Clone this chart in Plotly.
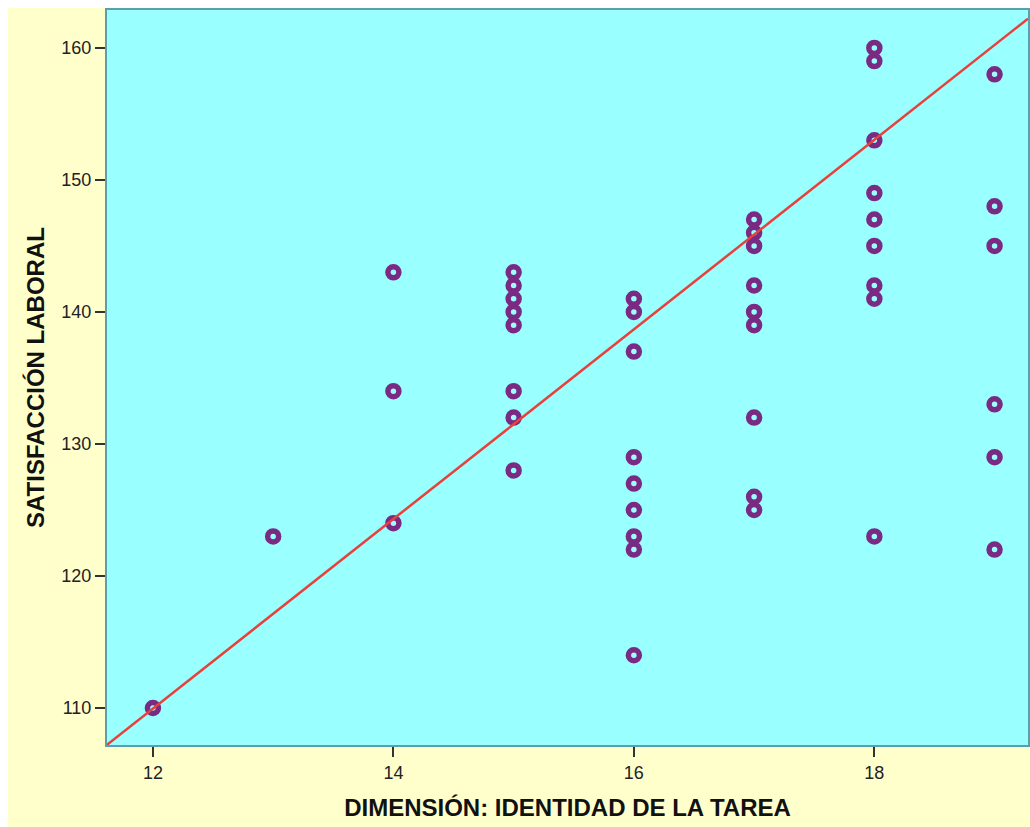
import plotly.graph_objects as go

# Data
x_vals = [12,
          13,
          14, 14, 14,
          15, 15, 15, 15, 15, 15, 15, 15,
          16, 16, 16, 16, 16, 16, 16, 16, 16,
          17, 17, 17, 17, 17, 17, 17, 17, 17,
          18, 18, 18, 18, 18, 18, 18, 18, 18,
          19, 19, 19, 19, 19, 19]
y_vals = [110,
          123,
          143, 134, 124,
          143, 142, 141, 140, 139, 134, 132, 128,
          141, 140, 137, 129, 127, 125, 123, 122, 114,
          147, 146, 145, 142, 140, 139, 132, 126, 125,
          160, 159, 153, 149, 147, 145, 142, 141, 123,
          158, 148, 145, 133, 129, 122]

# Fit line
fit_intercept = 23.8
fit_slope = 7.18

x_range = [11.618, 19.278]
y_range = [107.2, 162.87]
x_ticks = [12, 14, 16, 18]
y_ticks = [110, 120, 130, 140, 150, 160]

fig = go.Figure()
fig.add_trace(go.Scatter(
    x=x_vals, y=y_vals, mode="markers",
    marker=dict(symbol="circle-open", size=11, color="#7B2A83",
                line=dict(width=5.5, color="#7B2A83")),
    showlegend=False, cliponaxis=True))
fig.add_trace(go.Scatter(
    x=x_range, y=[fit_intercept + fit_slope * v for v in x_range],
    mode="lines", line=dict(color="#E8403A", width=2.5),
    showlegend=False))

fig.update_layout(
    width=1022, height=819,
    margin=dict(l=99, r=0, t=1, b=82),
    paper_bgcolor="#FFFFCC",
    plot_bgcolor="#99FFFF",
    font=dict(family="Liberation Sans, Arial, sans-serif", color="#222222"),
    xaxis=dict(range=x_range, tickvals=x_ticks, showgrid=False, zeroline=False,
               ticks="outside", ticklen=10, tickwidth=2, tickcolor="#333333",
               tickfont=dict(size=18, color="#222222"),
               showline=True, linecolor="#5C9EAE", linewidth=2, mirror=True,
               title=dict(text="<b>DIMENSIÓN: IDENTIDAD DE LA TAREA</b>",
                          font=dict(size=24, color="#111111"), standoff=18)),
    yaxis=dict(range=y_range, tickvals=y_ticks, showgrid=False, zeroline=False,
               ticks="outside", ticklen=10, tickwidth=2, tickcolor="#333333",
               tickfont=dict(size=18, color="#222222"),
               showline=True, linecolor="#5C9EAE", linewidth=2, mirror=True,
               title=dict(text="<b>SATISFACCIÓN LABORAL</b>",
                          font=dict(size=24, color="#111111"), standoff=10)),
)

fig.write_html("out.html",
               post_script="document.documentElement.style.overflow='hidden';"
                           "document.body.style.margin='8px 0 0 8px';"
                           "Plotly.Plots.resize(document.getElementById('{plot_id}'));")
